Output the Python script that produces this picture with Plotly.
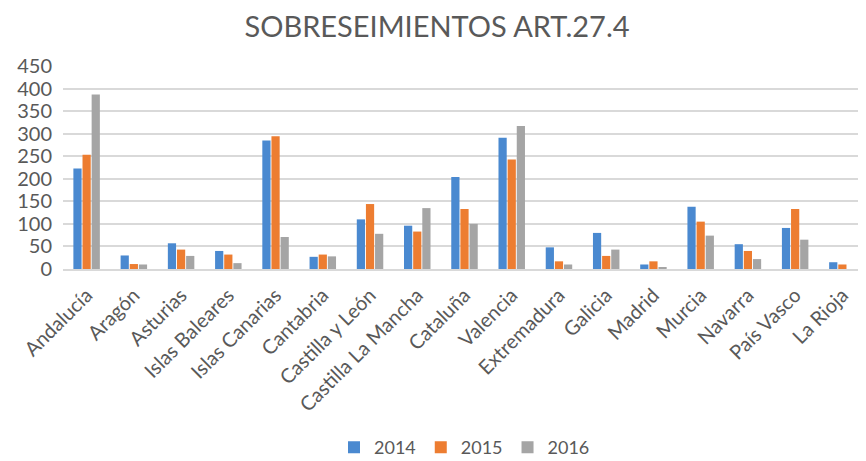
import plotly.graph_objects as go

categories = ["Andalucía", "Aragón", "Asturias", "Islas Baleares", "Islas Canarias",
              "Cantabria", "Castilla y León", "Castilla La Mancha", "Cataluña", "Valencia",
              "Extremadura", "Galicia", "Madrid", "Murcia", "Navarra", "País Vasco", "La Rioja"]
v2014 = [223, 30, 57, 40, 285, 27, 110, 96, 204, 291, 48, 80, 10, 138, 55, 91, 15]
v2015 = [253, 11, 43, 32, 294, 32, 144, 83, 133, 243, 17, 29, 17, 105, 40, 133, 10]
v2016 = [387, 10, 29, 13, 71, 28, 78, 135, 100, 317, 10, 43, 4, 74, 22, 65, 0]
years = ["2014", "2015", "2016"]
colors = ["#4a89d0", "#ed7d31", "#a5a5a5"]
y_ticks = [0, 50, 100, 150, 200, 250, 300, 350, 400, 450]

fig = go.Figure()
for name, vals, col in zip(years, [v2014, v2015, v2016], colors):
    fig.add_trace(go.Bar(x=categories, y=vals, name=name, marker_color=col,
                         marker_line_width=0))

font_family = "Lato, 'Open Sans', sans-serif"
fig.update_layout(
    width=858, height=453,
    paper_bgcolor="white", plot_bgcolor="white",
    margin=dict(l=55, r=0, t=58, b=192, autoexpand=False),
    barmode="group", bargap=0.42, bargroupgap=0.1,
    title=dict(text="SOBRESEIMIENTOS ART.27.4", x=0.5, xanchor="center",
               y=0.958, yanchor="middle",
               font=dict(family=font_family, size=29, color="#595959")),
    font=dict(family=font_family, color="#595959"),
    xaxis=dict(tickangle=-45, tickfont=dict(size=20, color="#595959"),
               showgrid=False, showline=True, linecolor="#d9d9d9", linewidth=1.5,
               ticks="", automargin=False, ticklabelstandoff=5),
    yaxis=dict(range=[0, 450], tickvals=y_ticks, showgrid=True, gridcolor="#d9d9d9",
               gridwidth=1.5, zeroline=False, tickfont=dict(size=20, color="#595959"),
               ticks="", ticklabelstandoff=10, automargin=False),
    legend=dict(orientation="h", x=0.5, xanchor="center", y=-0.88, yanchor="middle",
                font=dict(size=18, color="#595959"), itemwidth=30,
                traceorder="normal"),
    showlegend=True,
)
fig.write_html("out.html")
